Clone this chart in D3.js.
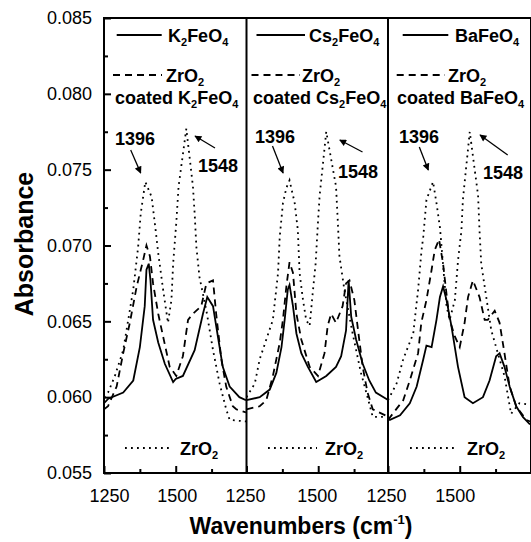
<!DOCTYPE html>
<html>
<head>
<meta charset="utf-8">
<script src="https://cdn.jsdelivr.net/npm/d3@7"></script>
<style>
	body { margin: 0; background: #fff; }
	svg { display: block; font-family: Arial, "Liberation Sans", sans-serif; }
	.tick line { stroke: #000; stroke-width: 2; }
	.tick text { font-size: 18px; fill: #000; }
	.lbl { font-weight: bold; font-size: 18px; fill: #000; }
</style>
</head>
<body>
<svg id="chart" width="531" height="542"></svg>
<script>
"use strict";

// ---- data: [wavenumber, absorbance] ----
var sampleNames = ["K2FeO4", "Cs2FeO4", "BaFeO4"];
var yMajor = [0.055, 0.060, 0.065, 0.070, 0.075, 0.080, 0.085];
var yMinor = [0.0575, 0.0625, 0.0675, 0.0725, 0.0775, 0.0825];
var xMajor = [1250, 1500];
var xMinor = [1375, 1625];
var peakLabels = ["1396", "1548"];

var k2Solid = [[1250,0.0596],[1265,0.0599],[1317,0.0603],[1352,0.0611],[1375,0.0633],[1392,0.0660],
	[1398,0.0684],[1406,0.0688],[1412,0.0677],[1421,0.0651],[1439,0.0636],[1462,0.0622],[1491,0.0610],
	[1500,0.0612],[1525,0.0614],[1566,0.0631],[1595,0.0655],[1610,0.0666],[1630,0.0660],[1647,0.0640],
	[1664,0.0620],[1688,0.0607],[1722,0.0600],[1745,0.0598]];
var k2Coated = [[1250,0.0592],[1264,0.0594],[1294,0.0607],[1317,0.0629],[1340,0.0649],[1364,0.0673],
	[1386,0.0690],[1398,0.0700],[1410,0.0693],[1421,0.0675],[1439,0.0655],[1456,0.0640],[1479,0.0620],
	[1502,0.0614],[1525,0.0627],[1543,0.0651],[1560,0.0655],[1589,0.0660],[1607,0.0675],[1630,0.0677],
	[1641,0.0655],[1659,0.0625],[1676,0.0607],[1699,0.0594],[1711,0.0592],[1745,0.0590]];
var k2Zr = [[1250,0.0600],[1264,0.0603],[1288,0.0614],[1317,0.0631],[1352,0.0671],[1369,0.0699],
	[1378,0.0721],[1394,0.0742],[1416,0.0732],[1427,0.0715],[1439,0.0695],[1456,0.0671],[1473,0.0649],
	[1485,0.0664],[1491,0.0688],[1502,0.0715],[1510,0.0739],[1537,0.0777],[1560,0.0739],[1566,0.0721],
	[1572,0.0699],[1583,0.0679],[1607,0.0657],[1630,0.0631],[1653,0.0609],[1676,0.0592],[1688,0.0585],
	[1745,0.0584]];

var csSolid = [[1250,0.0598],[1296,0.0600],[1331,0.0605],[1354,0.0616],[1372,0.0633],[1383,0.0651],
	[1394,0.0671],[1400,0.0674],[1412,0.0660],[1424,0.0642],[1441,0.0629],[1464,0.0620],[1493,0.0610],
	[1528,0.0614],[1562,0.0620],[1580,0.0627],[1597,0.0644],[1606,0.0677],[1615,0.0653],[1632,0.0638],
	[1655,0.0622],[1678,0.0611],[1701,0.0603],[1745,0.0598]];
var csCoated = [[1250,0.0592],[1296,0.0594],[1319,0.0598],[1342,0.0614],[1366,0.0636],[1377,0.0651],
	[1389,0.0673],[1400,0.0689],[1412,0.0682],[1424,0.0655],[1441,0.0638],[1470,0.0620],[1499,0.0614],
	[1522,0.0629],[1533,0.0647],[1545,0.0655],[1562,0.0649],[1585,0.0660],[1597,0.0675],[1609,0.0677],
	[1626,0.0664],[1637,0.0647],[1655,0.0620],[1672,0.0603],[1690,0.0592],[1745,0.0587]];
var csZr = [[1250,0.0600],[1279,0.0609],[1296,0.0625],[1319,0.0638],[1342,0.0651],[1360,0.0682],
	[1366,0.0706],[1377,0.0728],[1389,0.0738],[1400,0.0743],[1418,0.0728],[1429,0.0710],[1435,0.0682],
	[1447,0.0664],[1458,0.0651],[1470,0.0647],[1481,0.0669],[1491,0.0688],[1499,0.0715],[1505,0.0733],
	[1528,0.0775],[1562,0.0739],[1568,0.0717],[1574,0.0693],[1591,0.0671],[1620,0.0642],[1649,0.0616],
	[1672,0.0600],[1690,0.0587],[1745,0.0587]];

var baSolid = [[1250,0.0585],[1257,0.0585],[1292,0.0588],[1326,0.0596],[1350,0.0607],[1373,0.0625],
	[1384,0.0634],[1402,0.0633],[1419,0.0651],[1431,0.0666],[1442,0.0673],[1454,0.0664],[1471,0.0647],
	[1494,0.0620],[1517,0.0600],[1546,0.0596],[1581,0.0600],[1604,0.0611],[1627,0.0627],[1639,0.0629],
	[1656,0.0620],[1674,0.0607],[1697,0.0594],[1720,0.0587],[1745,0.0582]];
var baCoated = [[1250,0.0585],[1303,0.0598],[1326,0.0611],[1355,0.0629],[1366,0.0649],[1384,0.0664],
	[1402,0.0684],[1413,0.0697],[1428,0.0704],[1442,0.0688],[1454,0.0668],[1465,0.0651],[1483,0.0640],
	[1500,0.0633],[1517,0.0649],[1529,0.0666],[1546,0.0677],[1569,0.0666],[1587,0.0651],[1598,0.0651],
	[1622,0.0657],[1639,0.0649],[1656,0.0629],[1674,0.0607],[1697,0.0594],[1732,0.0585],[1745,0.0584]];
var baZr = [[1250,0.0598],[1280,0.0609],[1303,0.0625],[1338,0.0642],[1355,0.0671],[1367,0.0697],
	[1373,0.0706],[1384,0.0730],[1407,0.0742],[1419,0.0728],[1431,0.0712],[1454,0.0660],[1465,0.0651],
	[1483,0.0664],[1494,0.0690],[1506,0.0710],[1511,0.0730],[1535,0.0775],[1564,0.0733],[1569,0.0710],
	[1575,0.0688],[1610,0.0644],[1633,0.0629],[1656,0.0614],[1679,0.0589],[1708,0.0596],[1745,0.0595]];

var solidSeries = [k2Solid, csSolid, baSolid];
var coatedSeries = [k2Coated, csCoated, baCoated];
var zrSeries = [k2Zr, csZr, baZr];

// ---- layout ----
var svg = d3.select("#chart");
var plotTop = 18, plotBottom = 473;
var panelLeft = [104, 246.5, 388], panelW = 142;

// legend / annotation offsets from each panel's left edge
var lay = [
	{ solid: [12.7, 57.7], dash: [9, 58], nameX: 64, zrX: 62, coatX: 11, p1: [11, 145], p2: [94, 172],
	  a1: [26.7, 150, 36.7, 173], a2: [111, 148, 91, 136], dot: [21, 69], dotX: 76, tickDx: [5, 1] },
	{ solid: [10, 58.5], dash: [5, 53.5], nameX: 62.5, zrX: 55.5, coatX: 6.5, p1: [8.5, 143], p2: [91.5, 178],
	  a1: [26, 146, 36.6, 173], a2: [116, 152, 93.3, 140], dot: [21.5, 70.5], dotX: 78.5, tickDx: [-1.5, -1.5] },
	{ solid: [14.7, 60.3], dash: [8.7, 57], nameX: 67, zrX: 60, coatX: 9, p1: [11, 143], p2: [95, 179],
	  a1: [31.3, 147, 40.3, 170], a2: [119.7, 155, 92, 135], dot: [22, 70], dotX: 79, tickDx: [-2, -5] }
];

var y = d3.scaleLinear().domain([0.055, 0.085]).range([plotBottom, plotTop]);

var defs = svg.append("defs");
defs.append("marker").attr("id", "arrow").attr("viewBox", "0 0 10 10")
	.attr("refX", 9).attr("refY", 5).attr("markerWidth", 9).attr("markerHeight", 7)
	.attr("markerUnits", "userSpaceOnUse").attr("orient", "auto")
	.append("path").attr("d", "M0,0 L10,5 L0,10 z").attr("fill", "#000");

// write a formula, digits become subscripts
function chem(sel, str) {
	var parts = str.match(/\d+|\D+/g);
	var sub = false;
	parts.forEach(function(p) {
		var isDigit = /^\d+$/.test(p);
		var t = sel.append("tspan").text(p);
		if (isDigit) {
			t.attr("font-size", "11px").attr("dy", 4);
			sub = true;
		} else if (sub) {
			t.attr("dy", -4);
			sub = false;
		}
	});
}

var line = d3.line().x(function(d) { return d[0]; }).y(function(d) { return d[1]; });

panelLeft.forEach(function(left, i) {
	var L = lay[i];
	var x = d3.scaleLinear().domain([1250, 1745]).range([left, left + panelW]);
	var g = svg.append("g");

	defs.append("clipPath").attr("id", "clip" + i).append("rect")
		.attr("x", left).attr("y", plotTop).attr("width", panelW).attr("height", plotBottom - plotTop);

	var curves = g.append("g").attr("clip-path", "url(#clip" + i + ")")
		.attr("fill", "none").attr("stroke", "#000").attr("stroke-width", 1.8);

	function draw(data, dash) {
		var p = curves.append("path")
			.attr("d", line(data.map(function(d) { return [x(d[0]), y(d[1])]; })));
		if (dash) p.attr("stroke-dasharray", dash);
		return p;
	}
	draw(zrSeries[i], "1.8,4.2");
	draw(coatedSeries[i], "7,5");
	draw(solidSeries[i], null);

	// bottom axis
	var xa = g.append("g").attr("transform", "translate(0," + plotBottom + ")")
		.call(d3.axisBottom(x).tickValues(xMajor).tickSize(-7).tickPadding(16).tickFormat(d3.format("d")));
	xa.select(".domain").remove();
	xa.selectAll("text").attr("dx", function(d, j) { return L.tickDx[j]; });
	var xm = g.append("g").attr("transform", "translate(0," + plotBottom + ")")
		.call(d3.axisBottom(x).tickValues(xMinor).tickSize(-4).tickFormat(""));
	xm.select(".domain").remove();

	// legend
	var lg = g.append("g").attr("stroke", "#000").attr("stroke-width", 1.8);
	lg.append("line").attr("x1", left + L.solid[0]).attr("x2", left + L.solid[1]).attr("y1", 35).attr("y2", 35);
	lg.append("line").attr("x1", left + L.dash[0]).attr("x2", left + L.dash[1]).attr("y1", 75).attr("y2", 75)
		.attr("stroke-dasharray", "7,5");
	lg.append("line").attr("x1", left + L.dot[0]).attr("x2", left + L.dot[1]).attr("y1", 448).attr("y2", 448)
		.attr("stroke-dasharray", "1.8,4.2");

	chem(g.append("text").attr("class", "lbl").attr("x", left + L.nameX).attr("y", 42), sampleNames[i]);
	chem(g.append("text").attr("class", "lbl").attr("x", left + L.zrX).attr("y", 82), "ZrO2");
	chem(g.append("text").attr("class", "lbl").attr("x", left + L.coatX).attr("y", 104), "coated " + sampleNames[i]);
	chem(g.append("text").attr("class", "lbl").attr("x", left + L.dotX).attr("y", 455), "ZrO2");

	// peak annotations
	g.append("text").attr("class", "lbl").attr("x", left + L.p1[0]).attr("y", L.p1[1]).text(peakLabels[0]);
	g.append("text").attr("class", "lbl").attr("x", left + L.p2[0]).attr("y", L.p2[1]).text(peakLabels[1]);
	[L.a1, L.a2].forEach(function(a) {
		g.append("line").attr("x1", left + a[0]).attr("y1", a[1]).attr("x2", left + a[2]).attr("y2", a[3])
			.attr("stroke", "#000").attr("stroke-width", 1.3).attr("marker-end", "url(#arrow)");
	});
});

// left axis
var ya = svg.append("g").attr("transform", "translate(" + panelLeft[0] + ",0)")
	.call(d3.axisLeft(y).tickValues(yMajor).tickSize(-7).tickPadding(12).tickFormat(d3.format(".3f")));
ya.select(".domain").remove();
var ym = svg.append("g").attr("transform", "translate(" + panelLeft[0] + ",0)")
	.call(d3.axisLeft(y).tickValues(yMinor).tickSize(-4).tickFormat(""));
ym.select(".domain").remove();

// frame and panel dividers
var frame = svg.append("g").attr("stroke", "#000").attr("fill", "none");
frame.append("line").attr("x1", panelLeft[0] - 1).attr("x2", 531).attr("y1", plotTop).attr("y2", plotTop).attr("stroke-width", 2);
frame.append("line").attr("x1", panelLeft[0] - 1).attr("x2", 531).attr("y1", plotBottom).attr("y2", plotBottom).attr("stroke-width", 2);
panelLeft.forEach(function(left) {
	frame.append("line").attr("x1", left).attr("x2", left).attr("y1", plotTop).attr("y2", plotBottom).attr("stroke-width", 2);
});
frame.append("line").attr("x1", 530.5).attr("x2", 530.5).attr("y1", plotTop).attr("y2", plotBottom).attr("stroke-width", 1);

// axis titles
svg.append("text").attr("x", 301).attr("y", 534).attr("text-anchor", "middle")
	.attr("font-weight", "bold").attr("font-size", "23px")
	.call(function(t) {
		t.append("tspan").text("Wavenumbers (cm");
		t.append("tspan").attr("font-size", "13px").attr("dy", -10).text("-1");
		t.append("tspan").attr("dy", 10).text(")");
	});
svg.append("text").attr("transform", "translate(33,244) rotate(-90)").attr("text-anchor", "middle")
	.attr("font-weight", "bold").attr("font-size", "25px").text("Absorbance");
</script>
</body>
</html>
